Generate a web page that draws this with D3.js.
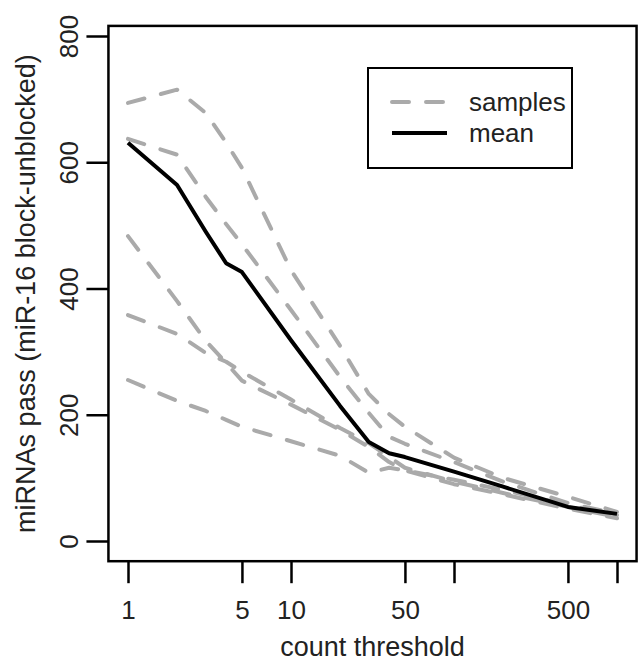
<!DOCTYPE html>
<html>
<head>
    <meta charset="utf-8">
    <title>miRNAs pass vs count threshold</title>
    <script src="https://d3js.org/d3.v7.min.js"></script>
    <style>
        body { margin: 0; background: #fff; }
        text { font-family: "Liberation Sans", Arial, Helvetica, sans-serif; fill: #222; }
        .sample { fill: none; stroke: #aaaaaa; stroke-width: 4; stroke-dasharray: 17 17; stroke-linecap: round; stroke-linejoin: round; }
        .mean { fill: none; stroke: #000; stroke-width: 4; stroke-linejoin: round; }
        .axis line { stroke: #000; stroke-width: 2.5; }
        .axis text { font-size: 26px; }
    </style>
</head>
<body>
    <div id="chart"></div>

    <script>
        // count thresholds (x) shared by all series
        const thresholds = [1, 2, 3, 4, 5, 10, 20, 30, 40, 50, 100, 200, 500, 1000];

        // per-sample curves
        const sampleA = [694, 715, 678, 631, 591, 429, 309, 233, 201, 181, 132, 100, 70, 46];
        const sampleB = [637, 612, 545, 502, 470, 366, 260, 203, 165, 154, 125, 94, 60, 43];
        const sampleC = [483, 380, 317, 282, 254, 216, 176, 149, 125, 112, 90, 74, 51, 36];
        const sampleD = [358, 328, 298, 284, 268, 224, 179, 155, 133, 116, 94, 76, 54, 38];
        const sampleE = [255, 222, 206, 192, 181, 158, 135, 108, 116, 112, 97, 81, 57, 41];
        const meanLine = [631, 564, 490, 440, 426, 318, 214, 157, 139, 133, 110, 86, 54, 43];

        // axis ticks
        const xTicks = [1, 5, 10, 50, 100, 500, 1000];
        const xTickLabels = ["1", "5", "10", "50", "", "500", ""];
        const yTicks = [0, 200, 400, 600, 800];

        const W = 641, H = 665;

        const svg = d3.select("#chart")
            .append("svg")
            .attr("width", W)
            .attr("height", H);

        const x = d3.scaleLog()
            .domain([1, 1000])
            .range([128, 617]);

        const y = d3.scaleLinear()
            .domain([0, 800])
            .range([541, 36]);

        // plot box, R style: 4% padding around the data range
        const bx0 = x(Math.pow(10, -0.12)), bx1 = x(Math.pow(10, 3.12));
        const by0 = y(816), by1 = y(-32);
        svg.append("rect")
            .attr("x", bx0)
            .attr("y", by0)
            .attr("width", bx1 - bx0)
            .attr("height", by1 - by0)
            .attr("fill", "none")
            .attr("stroke", "#000")
            .attr("stroke-width", 2.5);

        // x axis
        const xAxis = svg.append("g")
            .attr("class", "axis")
            .attr("transform", `translate(0,${by1})`)
            .call(d3.axisBottom(x)
                .tickValues(xTicks)
                .tickFormat((d, i) => xTickLabels[i])
                .tickSize(22)
                .tickSizeOuter(0));
        xAxis.select(".domain").remove();
        xAxis.selectAll("text")
            .attr("y", 49)
            .attr("dy", "0.35em")
            .attr("fill", "#222");

        // y axis, labels parallel to the axis
        const yAxis = svg.append("g")
            .attr("class", "axis")
            .attr("transform", `translate(${bx0},0)`)
            .call(d3.axisLeft(y)
                .tickValues(yTicks)
                .tickSize(22)
                .tickSizeOuter(0));
        yAxis.select(".domain").remove();
        yAxis.selectAll("text")
            .attr("x", null)
            .attr("dy", "0.35em")
            .attr("text-anchor", "middle")
            .attr("transform", "translate(-40,0) rotate(-90)")
            .attr("fill", "#222");

        // axis titles
        svg.append("text")
            .attr("x", (bx0 + bx1) / 2)
            .attr("y", 656)
            .attr("text-anchor", "middle")
            .style("font-size", "27px")
            .text("count threshold");

        svg.append("text")
            .attr("transform", `translate(26,${(by0 + by1) / 2}) rotate(-90)`)
            .attr("dy", "0.35em")
            .attr("text-anchor", "middle")
            .style("font-size", "27px")
            .text("miRNAs pass (miR-16 block-unblocked)");

        const line = d3.line()
            .x((d, i) => x(thresholds[i]))
            .y(d => y(d));

        // sample curves
        const samples = [sampleA, sampleB, sampleC, sampleD, sampleE];
        svg.selectAll(".sample")
            .data(samples)
            .enter()
            .append("path")
            .attr("class", "sample")
            .attr("d", line);

        // mean curve
        svg.append("path")
            .datum(meanLine)
            .attr("class", "mean")
            .attr("d", line);

        // legend
        const legend = svg.append("g");
        legend.append("rect")
            .attr("x", 368)
            .attr("y", 68)
            .attr("width", 204)
            .attr("height", 100)
            .attr("fill", "#fff")
            .attr("stroke", "#000")
            .attr("stroke-width", 2);

        const legendItems = [
            { label: "samples", cls: "sample", y: 102 },
            { label: "mean", cls: "mean", y: 133 }
        ];
        legendItems.forEach(d => {
            legend.append("line")
                .attr("class", d.cls)
                .attr("x1", 392)
                .attr("x2", 447)
                .attr("y1", d.y)
                .attr("y2", d.y);
            legend.append("text")
                .attr("x", 469)
                .attr("y", d.y)
                .attr("dy", "0.35em")
                .style("font-size", "26px")
                .text(d.label);
        });
    </script>
</body>
</html>
